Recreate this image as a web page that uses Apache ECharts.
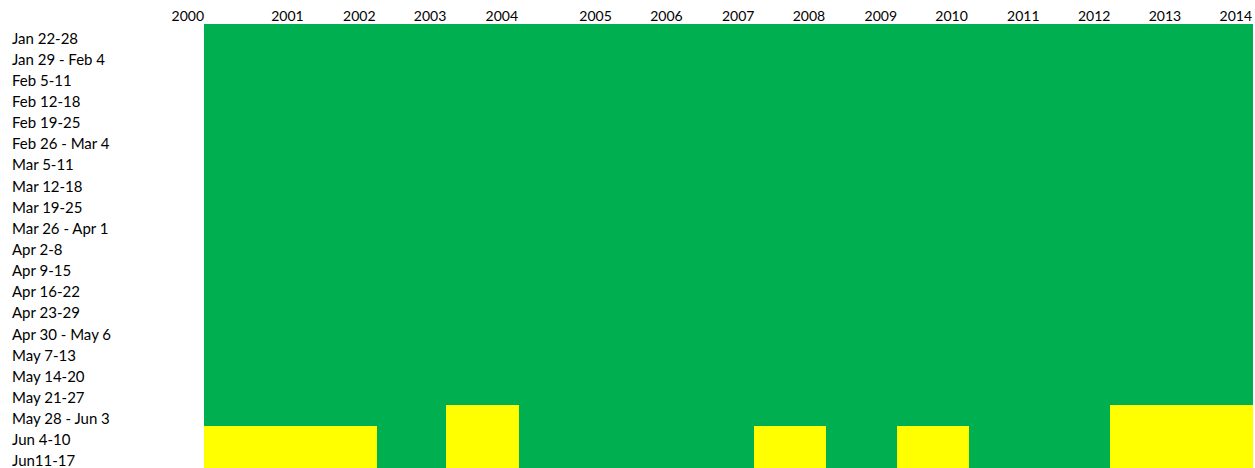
<!DOCTYPE html>
<html>
<head>
<meta charset="utf-8">
<script src="https://cdn.jsdelivr.net/npm/echarts@6/dist/echarts.min.js"></script>
<style>
  html, body { margin: 0; padding: 0; background: #ffffff; }
  #chart { width: 1255px; height: 468px; }
</style>
</head>
<body>
<div id="chart"></div>
<script>
// Header labels (years), placed on column boundaries as in the source sheet
const headerYears = ['2000','2001','2002','2003','2004','2005','2006','2007','2008','2009','2010','2011','2012','2013','2014'];
// Data columns (one per year 2001-2014)
const dataYears = ['2001','2002','2003','2004','2005','2006','2007','2008','2009','2010','2011','2012','2013','2014'];
// Week rows
const weeks = ['Jan 22-28','Jan 29 - Feb 4','Feb 5-11','Feb 12-18','Feb 19-25','Feb 26 - Mar 4','Mar 5-11','Mar 12-18','Mar 19-25','Mar 26 - Apr 1','Apr 2-8','Apr 9-15','Apr 16-22','Apr 23-29','Apr 30 - May 6','May 7-13','May 14-20','May 21-27','May 28 - Jun 3','Jun 4-10','Jun11-17'];
// First week in which each year turns yellow (null = green for all shown weeks)
const yellowFromWeek = ['Jun 4-10','Jun 4-10',null,'May 28 - Jun 3',null,null,null,'Jun 4-10',null,'Jun 4-10',null,null,'May 28 - Jun 3','May 28 - Jun 3'];

// Layout (column widths of the sheet, in px-like units)
const colWidths = [100,72,71,72,94,71,72,71,72,71,72,71,71,71];
const GREEN = '#00B050', YELLOW = '#FFFF00';

const edges = [0];
colWidths.forEach(w => edges.push(edges[edges.length - 1] + w));

const cells = [];
dataYears.forEach((y, ci) => {
  const start = yellowFromWeek[ci] === null ? Infinity : weeks.indexOf(yellowFromWeek[ci]);
  weeks.forEach((w, ri) => {
    cells.push([ci, ri, ri >= start ? 1 : 0]);
  });
});

const chart = echarts.init(document.getElementById('chart'), null, { renderer: 'svg' });
const FONT = 'Lato';
chart.setOption({
  animation: false,
  grid: { left: 204, top: 24, right: 0, bottom: 0, containLabel: false },
  xAxis: {
    type: 'value', position: 'top', min: 0, max: edges[edges.length - 1],
    axisLine: { show: false }, axisTick: { show: false }, splitLine: { show: false },
    axisLabel: {
      customValues: edges,
      formatter: v => { const i = edges.indexOf(v); return i >= 0 ? headerYears[i] : ''; },
      align: 'right', margin: 2, color: '#000', fontFamily: FONT, fontSize: 14,
      showMinLabel: true, showMaxLabel: true, hideOverlap: false
    }
  },
  yAxis: {
    type: 'category', data: weeks, inverse: true,
    axisLine: { show: false }, axisTick: { show: false }, splitLine: { show: false },
    axisLabel: {
      align: 'left', margin: 192, interval: 0,
      formatter: v => '{w|' + v + '}',
      rich: { w: { color: '#000', fontFamily: FONT, fontSize: 15, padding: [6, 0, 0, 0] } }
    }
  },
  series: [{
    type: 'custom',
    data: cells,
    renderItem: (params, api) => {
      const ci = api.value(0), ri = api.value(1), st = api.value(2);
      const p0 = api.coord([edges[ci], ri]);
      const p1 = api.coord([edges[ci + 1], ri]);
      const h = api.size([0, 1])[1];
      const x0 = Math.round(p0[0]), x1 = Math.round(p1[0]);
      const y0 = Math.round(p0[1] - h / 2), y1 = Math.round(p0[1] + h / 2);
      return {
        type: 'rect',
        shape: { x: x0, y: y0, width: x1 - x0 + 1, height: y1 - y0 + 1 },
        style: { fill: st ? YELLOW : GREEN, stroke: null },
        z2: st ? 2 : 1
      };
    }
  }]
});
</script>
</body>
</html>
